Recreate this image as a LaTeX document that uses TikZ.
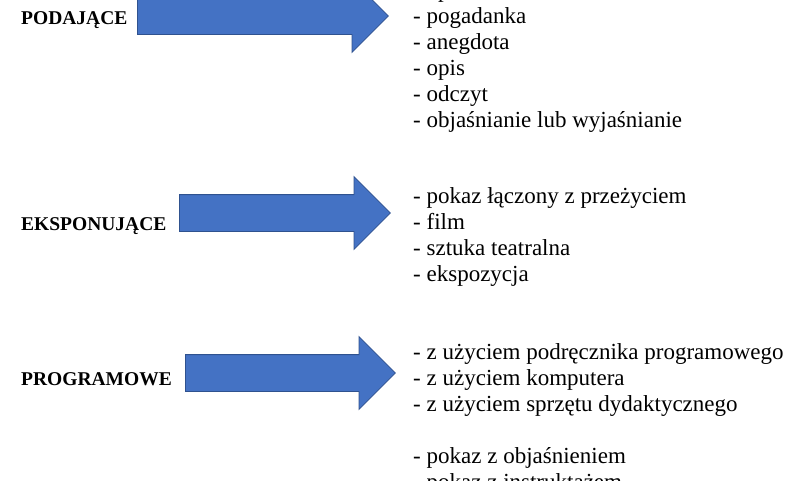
\documentclass[tikz,border=0pt]{standalone}
\usepackage{fontspec}
\setmainfont{Liberation Serif}
\usetikzlibrary{shapes.arrows,positioning}
\definecolor{arrowfill}{HTML}{4472C4}
\definecolor{arrowline}{HTML}{2F528F}
\tikzset{
  kind/.style={font=\bfseries\fontsize{19.5}{22}\selectfont, anchor=base west, inner sep=0pt},
  item/.style={font=\fontsize{23}{26}\selectfont, anchor=base west, inner sep=0pt},
  bigarrow/.style={single arrow, fill=arrowfill, draw=arrowline, line width=0.8pt,
    inner xsep=0pt, inner ysep=18pt, single arrow head extend=18pt,
    anchor=west, minimum height=#1}
}
\begin{document}
\begin{tikzpicture}[x=1pt,y=-1pt]
   \clip (0,0) rectangle (805,480);
   % kinds of methods
   \node[kind] (podajace) at (21,24) {PODAJĄCE};
   \node[kind] (eksponujace) at (21,230) {EKSPONUJĄCE};
   \node[kind] (programowe) at (21,385) {PROGRAMOWE};
   % arrows
   \node[bigarrow=251pt] (arrpod) at (137,16) {};
   \node[bigarrow=211pt] (arreks) at (179,213) {};
   \node[bigarrow=210pt] (arrprog) at (185,373) {};
   % lists
   \foreach \t [count=\i from 0] in {opowiadanie, pogadanka, anegdota, opis, odczyt, objaśnianie lub wyjaśnianie}
     \node[item] (pod\i) at (413,-3+26*\i) {- \t};
   \foreach \t [count=\i] in {pokaz łączony z przeżyciem, film, sztuka teatralna, ekspozycja}
     \node[item] (eks\i) at (413,177+26*\i) {- \t};
   \foreach \t/\y [count=\i] in {z użyciem podręcznika programowego/359, z użyciem komputera/385,
       z użyciem sprzętu dydaktycznego/411, pokaz z objaśnieniem/463, pokaz z instruktażem/489}
     \node[item] (prog\i) at (413,\y) {- \t};
\end{tikzpicture}
\end{document}
